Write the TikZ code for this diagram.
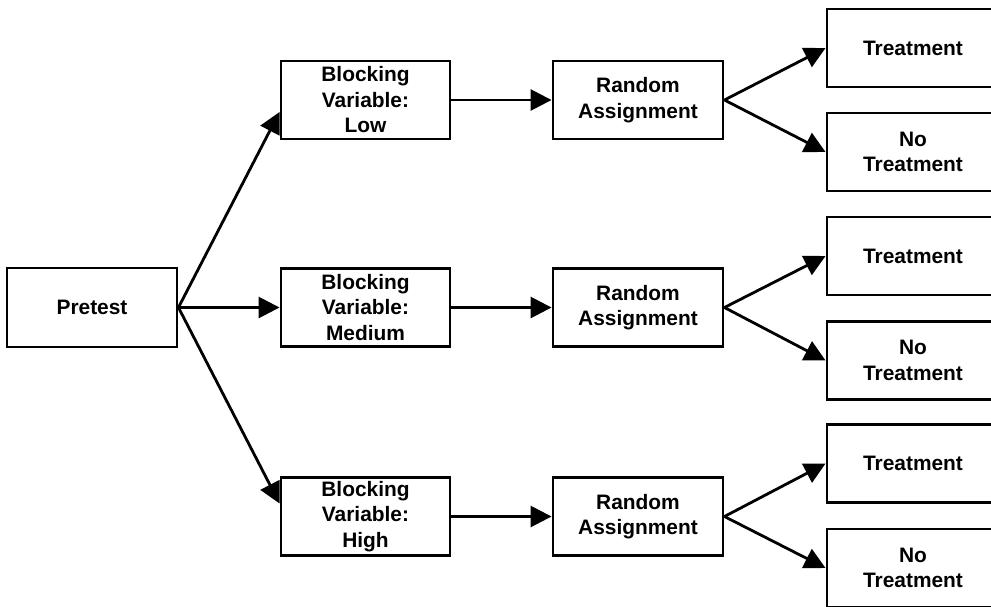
\documentclass[tikz,border=0pt]{standalone}
\usepackage{fontspec}
\setmainfont{Liberation Sans}
\usetikzlibrary{arrows.meta}
\begin{document}
\begin{tikzpicture}[x=1pt,y=-1pt,
  box/.style={draw=black, line width=2.9pt, rectangle, inner sep=0pt,
    align=center, minimum height=78pt,
    font=\bfseries\fontsize{20.9}{25.5}\selectfont},
  arr/.style={draw=black, line width=2.8pt,
    -{Triangle[length=21pt,width=21pt]}}]
  \clip (0,0) rectangle (991,606);
  \fill[white] (0,0) rectangle (991,606);

  % source
  \node[box, minimum width=170pt, minimum height=79pt] (pre) at (92,307.5) {Pretest};

  % blocking levels
  \node[box, minimum width=169pt] (blo) at (365.5,100) {Blocking\\Variable:\\Low};
  \node[box, minimum width=169pt] (bme) at (365.5,307.5) {Blocking\\Variable:\\Medium};
  \node[box, minimum width=169pt] (bhi) at (365.5,516.5) {Blocking\\Variable:\\High};

  % random assignment per level
  \node[box, minimum width=170pt] (rlo) at (638,100) {Random\\Assignment};
  \node[box, minimum width=170pt] (rme) at (638,307.5) {Random\\Assignment};
  \node[box, minimum width=170pt] (rhi) at (638,516.5) {Random\\Assignment};

  % outcome groups
  \node[box, minimum width=172pt] (tlo) at (913,48) {Treatment};
  \node[box, minimum width=172pt] (nlo) at (913,152) {No\\Treatment};
  \node[box, minimum width=172pt] (tme) at (913,256) {Treatment};
  \node[box, minimum width=172pt] (nme) at (913,360.5) {No\\Treatment};
  \node[box, minimum width=172pt] (thi) at (913,463.5) {Treatment};
  \node[box, minimum width=172pt] (nhi) at (913,568) {No\\Treatment};

  % connectors
  \draw[arr] (pre.east) -- ([yshift=-12pt]blo.west);
  \draw[arr] (pre.east) -- (bme.west);
  \draw[arr] (pre.east) -- ([yshift=13pt]bhi.west);

  \draw[arr] (blo.east) -- (rlo.west);
  \draw[arr] (bme.east) -- (rme.west);
  \draw[arr] (bhi.east) -- (rhi.west);

  \draw[arr] (rlo.east) -- (tlo.west);
  \draw[arr] (rlo.east) -- (nlo.west);
  \draw[arr] (rme.east) -- (tme.west);
  \draw[arr] (rme.east) -- (nme.west);
  \draw[arr] (rhi.east) -- (thi.west);
  \draw[arr] (rhi.east) -- (nhi.west);
\end{tikzpicture}
\end{document}
